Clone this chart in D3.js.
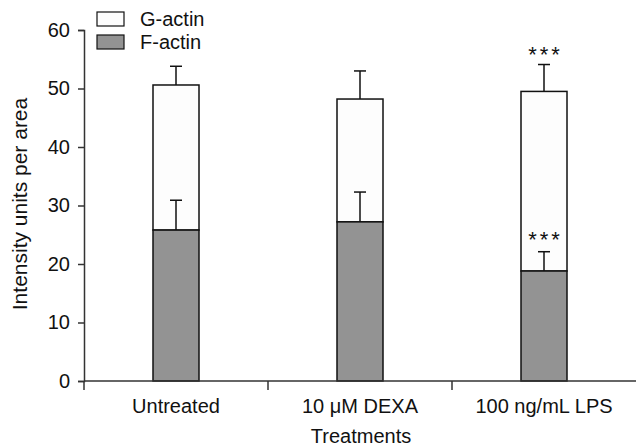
<!DOCTYPE html>
<html>
<head>
<meta charset="utf-8">
<script src="https://cdn.jsdelivr.net/npm/d3@7"></script>
<style>
  body { margin: 0; background: #fff; }
  text { font-family: "Liberation Sans", Arial, sans-serif; fill: #111; }
</style>
</head>
<body>
<div class="canva"></div>
<script>
const treatments = ["Untreated", "10 \u03BCM DEXA", "100 ng/mL LPS"];
const fActin = [25.8, 27.2, 18.8];
const fActinErr = [5.1, 5.1, 3.3];
const totalActin = [50.6, 48.2, 49.5];
const totalErr = [3.2, 4.8, 4.6];
const significant = [false, false, true];
const yTicks = [0, 10, 20, 30, 40, 50, 60];

const svg = d3.select(".canva").append("svg")
    .attr("width", 636)
    .attr("height", 448);

const margin = {top: 30, right: 0, bottom: 67, left: 84};
const width = 636 - margin.left - margin.right;
const height = 448 - margin.top - margin.bottom;

const graph = svg.append("g")
    .attr("transform", `translate(${margin.left}, ${margin.top})`);

const xScale = d3.scaleBand()
    .domain(treatments)
    .range([0, width])
    .paddingInner(0)
    .paddingOuter(0);

const yScale = d3.scaleLinear()
    .domain([0, 60])
    .range([height, 0]);

const barWidth = 46;
const data = treatments.map((t, i) => ({
    name: t,
    f: fActin[i], fErr: fActinErr[i],
    total: totalActin[i], totalErr: totalErr[i],
    sig: significant[i]
}));
const cx = d => xScale(d.name) + xScale.bandwidth() / 2;

function errorBar(sel, val, err) {
    const g = sel.append("g")
        .attr("stroke", "#111")
        .attr("stroke-width", 1.5);
    g.append("line")
        .attr("x1", cx).attr("x2", cx)
        .attr("y1", d => yScale(val(d))).attr("y2", d => yScale(val(d) + err(d)));
    g.append("line")
        .attr("x1", d => cx(d) - 6).attr("x2", d => cx(d) + 6)
        .attr("y1", d => yScale(val(d) + err(d))).attr("y2", d => yScale(val(d) + err(d)));
}

const groups = graph.selectAll(".bar")
    .data(data)
    .enter().append("g")
    .attr("class", "bar");

// G-actin error bar, then the G-actin segment
errorBar(groups, d => d.total, d => d.totalErr);
groups.append("rect")
    .attr("x", d => cx(d) - barWidth / 2)
    .attr("y", d => yScale(d.total))
    .attr("width", barWidth)
    .attr("height", d => yScale(d.f) - yScale(d.total))
    .attr("fill", "#fdfdfd")
    .attr("stroke", "#111")
    .attr("stroke-width", 1.5);

// F-actin error bar, then the F-actin segment
errorBar(groups, d => d.f, d => d.fErr);
groups.append("rect")
    .attr("x", d => cx(d) - barWidth / 2)
    .attr("y", d => yScale(d.f))
    .attr("width", barWidth)
    .attr("height", d => height - yScale(d.f))
    .attr("fill", "#939393")
    .attr("stroke", "#111")
    .attr("stroke-width", 1.5);

// significance stars
const sigGroups = groups.filter(d => d.sig);
sigGroups.append("text")
    .attr("x", d => cx(d) + 1.5)
    .attr("y", d => yScale(d.total + d.totalErr) - 3)
    .attr("text-anchor", "middle")
    .style("font-size", "22px")
    .style("letter-spacing", "3px")
    .text("***");
sigGroups.append("text")
    .attr("x", d => cx(d) + 1.5)
    .attr("y", d => yScale(d.f + d.fErr) - 5)
    .attr("text-anchor", "middle")
    .style("font-size", "22px")
    .style("letter-spacing", "3px")
    .text("***");

// axes
const yAxis = d3.axisLeft(yScale).tickValues(yTicks).tickSize(6).tickPadding(8);
const xAxis = d3.axisBottom(xScale).tickSize(0).tickPadding(18);

const yG = graph.append("g").call(yAxis);
const xG = graph.append("g")
    .attr("transform", `translate(0, ${height})`)
    .call(xAxis);

[yG, xG].forEach(g => {
    g.select(".domain").attr("stroke", "#333").attr("stroke-width", 1.5);
    g.selectAll(".tick line").attr("stroke", "#333").attr("stroke-width", 1.5);
    g.selectAll(".tick text")
        .style("font-size", "20px")
        .style("font-family", "'Liberation Sans', Arial, sans-serif")
        .attr("fill", "#111");
});
xG.select(".domain").attr("d", `M0,0H${width}`);

// category separator ticks on x axis
xG.selectAll(".sep")
    .data(treatments)
    .enter().append("line")
    .attr("x1", d => xScale(d)).attr("x2", d => xScale(d))
    .attr("y1", 0).attr("y2", 9)
    .attr("stroke", "#333")
    .attr("stroke-width", 1.5);

// axis titles
svg.append("text")
    .attr("transform", `translate(27, 204) rotate(-90)`)
    .attr("text-anchor", "middle")
    .style("font-size", "21px")
    .text("Intensity units per area");

svg.append("text")
    .attr("x", 361)
    .attr("y", 443)
    .attr("text-anchor", "middle")
    .style("font-size", "20px")
    .text("Treatments");

// legend
const legendItems = [
    {label: "G-actin", fill: "#fdfdfd"},
    {label: "F-actin", fill: "#939393"}
];
const legend = svg.selectAll(".legend")
    .data(legendItems)
    .enter().append("g")
    .attr("transform", (d, i) => `translate(97, ${12 + i * 23})`);
legend.append("rect")
    .attr("width", 27)
    .attr("height", 14)
    .attr("fill", d => d.fill)
    .attr("stroke", "#111")
    .attr("stroke-width", 1.2);
legend.append("text")
    .attr("x", 43)
    .attr("y", 14)
    .style("font-size", "20px")
    .text(d => d.label);
</script>
</body>
</html>
